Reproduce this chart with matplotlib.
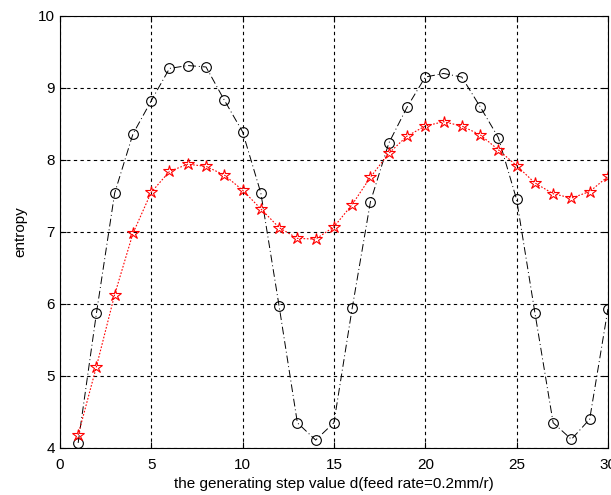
import matplotlib
matplotlib.use("Agg")
import matplotlib.pyplot as plt
import numpy as np

plt.rcParams['font.family'] = ['Liberation Sans', 'DejaVu Sans']

steps = np.arange(1, 31)

# black circles
entropy_a = [4.07, 5.87, 7.54, 8.36, 8.82, 9.27, 9.31, 9.29, 8.83, 8.39,
             7.54, 5.97, 4.35, 4.11, 4.35, 5.94, 7.42, 8.23, 8.73, 9.15,
             9.20, 9.15, 8.74, 8.31, 7.45, 5.88, 4.35, 4.12, 4.40, 5.93]

# red stars
entropy_b = [4.18, 5.13, 6.13, 6.98, 7.55, 7.84, 7.94, 7.91, 7.79, 7.58,
             7.32, 7.06, 6.91, 6.90, 7.07, 7.38, 7.76, 8.09, 8.33, 8.47,
             8.53, 8.47, 8.35, 8.14, 7.92, 7.68, 7.53, 7.47, 7.56, 7.77]

fig = plt.figure(figsize=(6.11, 4.95), dpi=100)
ax = fig.add_axes([0.098, 0.095, 0.897, 0.873])

ax.plot(steps, entropy_a, color='black', linestyle=(0, (8, 3, 1, 3)), linewidth=0.7,
        marker='o', markersize=7, markerfacecolor='none', markeredgecolor='black',
        markeredgewidth=0.8)
ax.plot(steps, entropy_b, color='red', linestyle=(0, (1.5, 1.5)), linewidth=0.8,
        marker='*', markersize=9, markerfacecolor='none', markeredgecolor='red',
        markeredgewidth=0.8)

ax.set_xlim(0, 30)
ax.set_ylim(4, 10)
ax.set_xticks(range(0, 31, 5))
ax.set_yticks(range(4, 11))
ax.grid(True, color='black', linestyle=(0, (3, 3)), linewidth=0.8)
ax.tick_params(direction='in', top=True, right=True, labelsize=11, length=4)
ax.tick_params(axis='x', pad=7)
for s in ax.spines.values():
    s.set_linewidth(0.8)

ax.set_xlabel('the generating step value d(feed rate=0.2mm/r)', fontsize=11, labelpad=4)
ax.set_ylabel('entropy', fontsize=11, labelpad=8)

fig.savefig('out.png', dpi=100)
